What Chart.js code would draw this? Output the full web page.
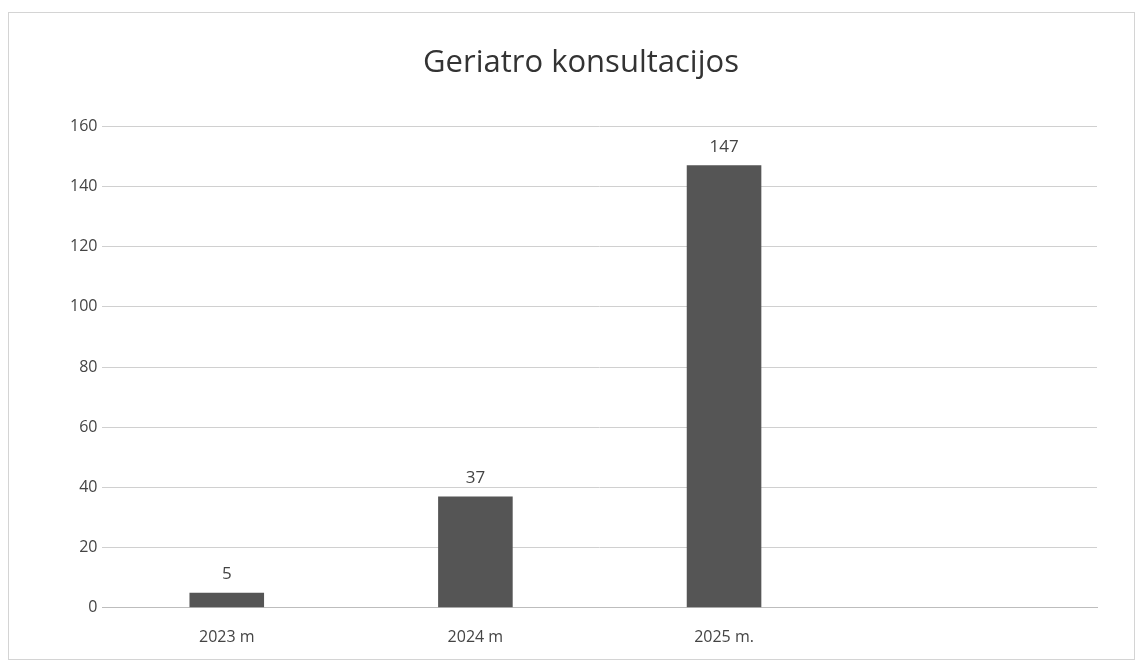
<!DOCTYPE html>
<html>
<head>
<meta charset="utf-8">
<script src="https://cdn.jsdelivr.net/npm/chart.js@4.4.1/dist/chart.umd.min.js"></script>
<style>
  html, body { margin: 0; padding: 0; background: #fff; }
  #wrap {
    position: absolute;
    left: 8px; top: 12px;
    width: 1125px; height: 646px;
    border: 1px solid #d4d4d4;
    background: #fff;
  }
</style>
</head>
<body>
<div id="wrap"><canvas id="chart"></canvas></div>
<script>
const categories = ["2023 m", "2024 m", "2025 m.", ""];
const consultations = [5, 37, 147, null];
const yTicks = [0, 20, 40, 60, 80, 100, 120, 140, 160];

const barColor = "#555555";
const textColor = "#444444";

// draw the value above each bar
const valueLabels = {
  id: "valueLabels",
  afterDatasetsDraw(chart) {
    const ctx = chart.ctx;
    const meta = chart.getDatasetMeta(0);
    ctx.save();
    ctx.fillStyle = textColor;
    ctx.font = "17px 'Open Sans', sans-serif";
    ctx.textAlign = "center";
    ctx.textBaseline = "bottom";
    meta.data.forEach((bar, i) => {
      const v = consultations[i];
      if (v === null || v === undefined) return;
      ctx.fillText(String(v), bar.x, bar.y - 10);
    });
    ctx.restore();
  },
};

new Chart(document.getElementById("chart"), {
  type: "bar",
  data: {
    labels: categories,
    datasets: [
      {
        label: "Geriatro konsultacijos",
        data: consultations,
        backgroundColor: barColor,
        categoryPercentage: 1.0,
        barPercentage: 0.3,
      },
    ],
  },
  options: {
    responsive: true,
    maintainAspectRatio: false,
    animation: false,
    layout: { padding: { top: 18, right: 37, left: 56, bottom: 0 } },
    plugins: {
      legend: { display: false },
      tooltip: { enabled: false },
      title: {
        display: true,
        text: "Geriatro konsultacijos",
        color: "#333333",
        font: { family: "'Open Sans', sans-serif", size: 31, weight: "normal" },
        padding: { top: 14, bottom: 44 },
      },
    },
    scales: {
      x: {
        grid: { display: false },
        border: { display: true, color: "#bdbdbd" },
        ticks: {
          color: textColor,
          font: { family: "'Open Sans', sans-serif", size: 16 },
          padding: 12,
        },
      },
      y: {
        min: yTicks[0],
        max: yTicks[yTicks.length - 1],
        afterBuildTicks: (axis) => {
          axis.ticks = yTicks.map((v) => ({ value: v }));
        },
        grid: { color: "#d0d0d0", drawTicks: false },
        border: { display: false },
        ticks: {
          color: textColor,
          font: { family: "'Open Sans', sans-serif", size: 16 },
          padding: 5,
        },
      },
    },
  },
  plugins: [valueLabels],
});
</script>
</body>
</html>
